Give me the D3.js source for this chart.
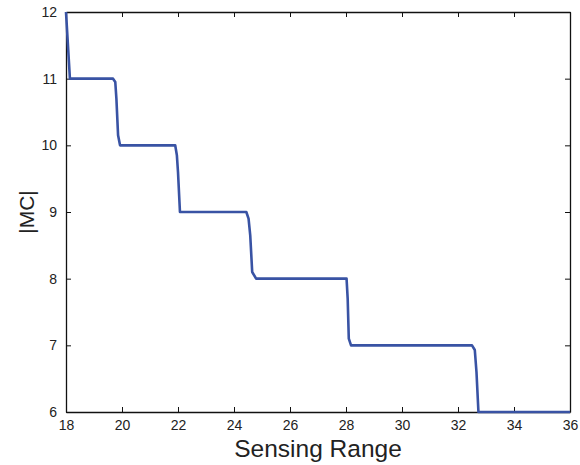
<!DOCTYPE html>
<html>
<head>
<meta charset="utf-8">
<script src="https://cdn.jsdelivr.net/npm/d3@7"></script>
<style>
  body { margin: 0; background: #fff; }
  text { font-family: "Liberation Sans", Arial, sans-serif; fill: #222; }
</style>
</head>
<body>
<script>
// values
const rangeX = [18, 18.14, 19.68, 19.76, 19.80, 19.86, 19.93, 21.90, 21.96, 22.0, 22.07,
  24.44, 24.52, 24.58, 24.65, 24.79, 28.02, 28.06, 28.10, 28.18,
  32.5, 32.6, 32.66, 32.73, 36];
const mcValues = [12, 11, 11, 10.95, 10.7, 10.15, 10, 10, 9.85, 9.6, 9,
  9, 8.9, 8.65, 8.1, 8, 8, 7.7, 7.1, 7,
  7, 6.93, 6.6, 6, 6];
const xTicks = [18, 20, 22, 24, 26, 28, 30, 32, 34, 36];
const yTicks = [6, 7, 8, 9, 10, 11, 12];

const width = 580, height = 465;
const margin = { top: 12, right: 10, bottom: 53, left: 66 };
const w = width - margin.left - margin.right;
const h = height - margin.top - margin.bottom;

const svg = d3.select('body').append('svg')
  .attr('width', width)
  .attr('height', height);

const g = svg.append('g')
  .attr('transform', `translate(${margin.left},${margin.top})`);

const x = d3.scaleLinear().domain([18, 36]).range([0, w]);
const y = d3.scaleLinear().domain([6, 12]).range([h, 0]);

// ticks point inward, matlab style
const tick = 5;
const fmt = d3.format('d');

const xAxis = g.append('g')
  .attr('transform', `translate(0,${h})`)
  .call(d3.axisBottom(x).tickValues(xTicks).tickFormat(fmt).tickSizeInner(-tick).tickSizeOuter(0).tickPadding(8));
const yAxis = g.append('g')
  .call(d3.axisLeft(y).tickValues(yTicks).tickFormat(fmt).tickSizeInner(-tick).tickSizeOuter(0).tickPadding(9));
g.append('g')
  .call(d3.axisTop(x).tickValues(xTicks).tickSizeInner(-tick).tickSizeOuter(0).tickFormat(''));
g.append('g')
  .attr('transform', `translate(${w},0)`)
  .call(d3.axisRight(y).tickValues(yTicks).tickSizeInner(-tick).tickSizeOuter(0).tickFormat(''));

g.selectAll('.domain').attr('stroke', '#111').attr('stroke-width', 1.3);
g.selectAll('.tick line').attr('stroke', '#111');
g.selectAll('.tick text')
  .attr('font-size', 14)
  .style('font-family', '"Liberation Sans", Arial, sans-serif')
  .attr('fill', '#222');

const line = d3.line()
  .x((d, i) => x(rangeX[i]))
  .y(d => y(d));

g.append('path')
  .datum(mcValues)
  .attr('fill', 'none')
  .attr('stroke', '#3953a4')
  .attr('stroke-width', 2.6)
  .attr('stroke-linejoin', 'round')
  .attr('d', line);

// axis labels
svg.append('text')
  .attr('x', margin.left + w / 2)
  .attr('y', 457)
  .attr('text-anchor', 'middle')
  .attr('font-size', 24.5)
  .text('Sensing Range');

svg.append('text')
  .attr('transform', `translate(34,${margin.top + h / 2}) rotate(-90)`)
  .attr('text-anchor', 'middle')
  .attr('font-size', 21)
  .text('|MC|');
</script>
</body>
</html>
